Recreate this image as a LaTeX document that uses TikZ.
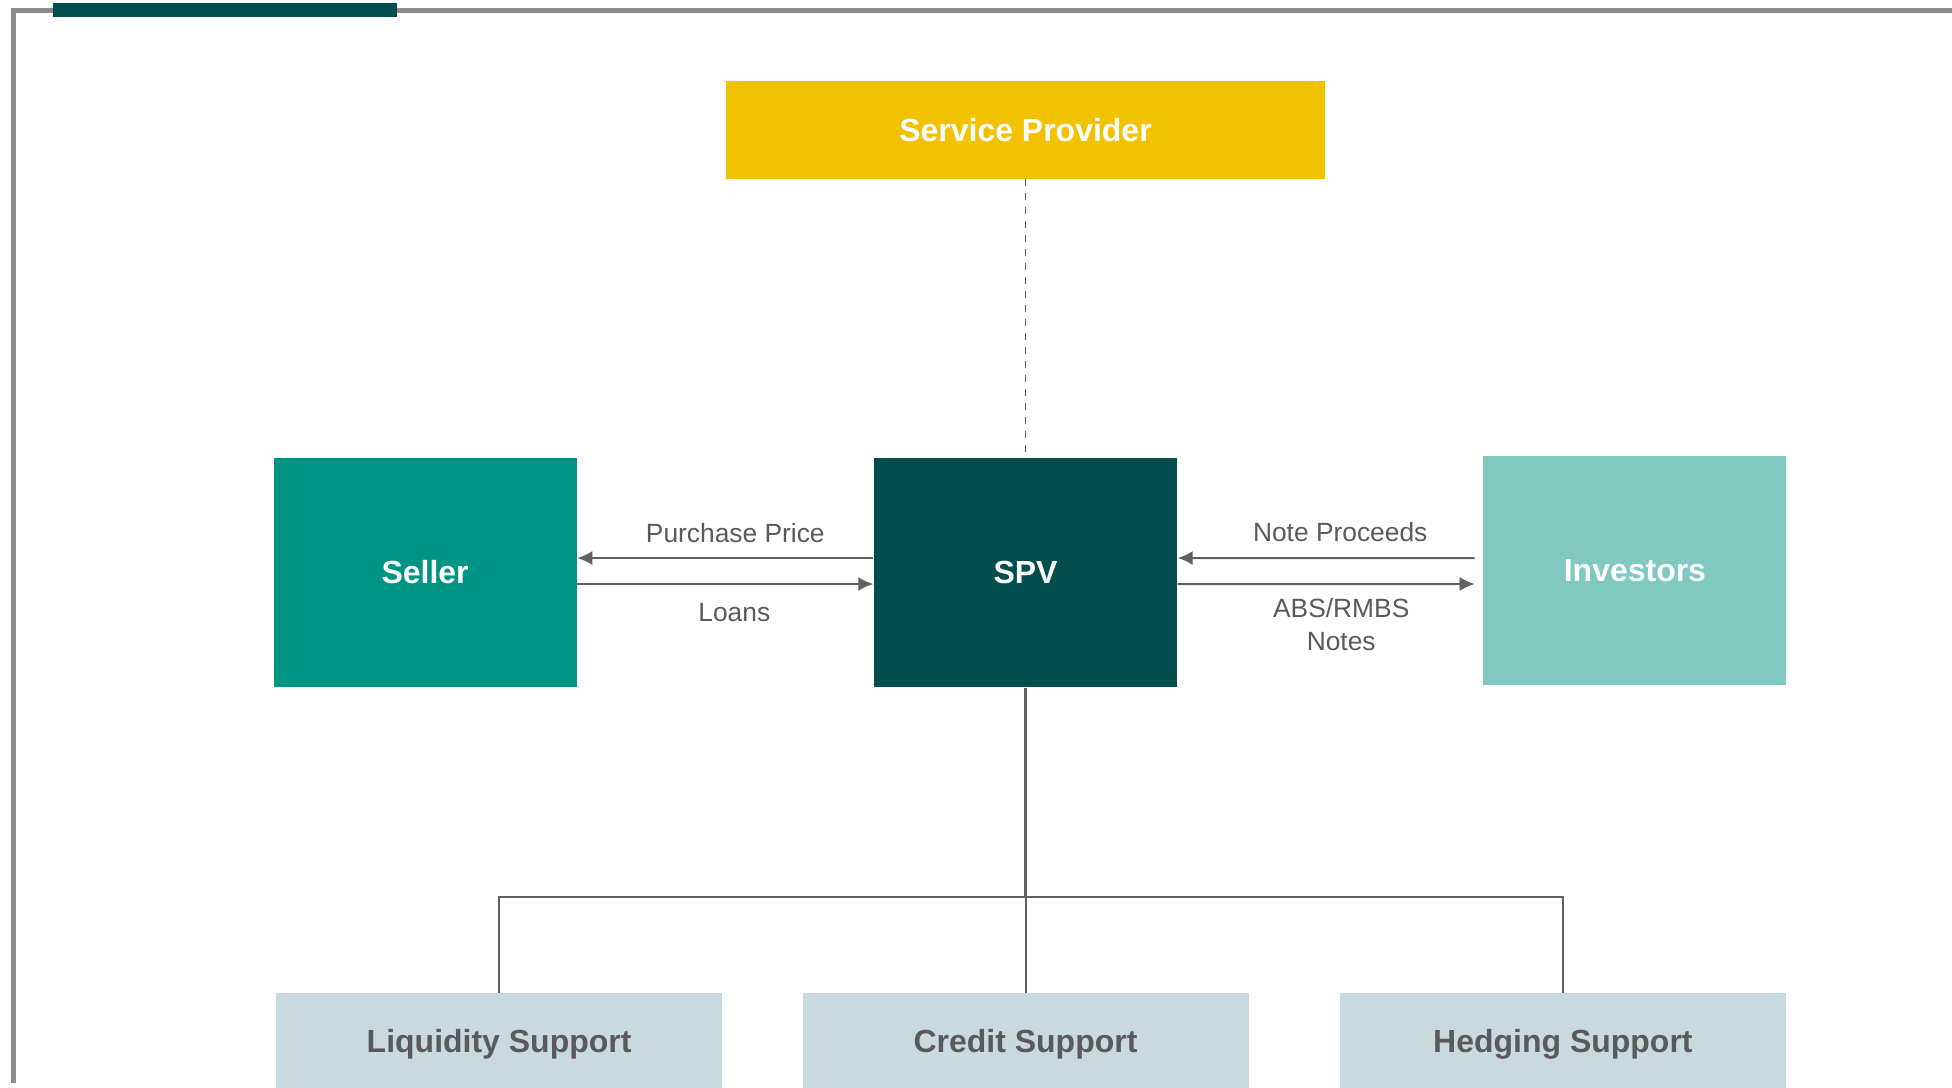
\documentclass[tikz,border=0pt]{standalone}
\usepackage{xcolor}
\usepackage{fontspec}
\setmainfont{Liberation Sans}
\usepackage{tikz}
\usetikzlibrary{arrows.meta, positioning, calc}

\definecolor{spyellow}{HTML}{F2C200}
\definecolor{sellerteal}{HTML}{009485}
\definecolor{spvteal}{HTML}{024D4E}
\definecolor{invteal}{HTML}{80C8C0}
\definecolor{supblue}{HTML}{C8D9E0}
\definecolor{textgray}{HTML}{5A5A5A}
\definecolor{framegray}{HTML}{8C8C8C}
\definecolor{linegray}{HTML}{606060}

\begin{document}
\begin{tikzpicture}[
    keybox/.style={minimum width=3.03cm, minimum height=2.29cm, inner sep=0pt,
        text=white, font=\fontsize{9.1}{11}\selectfont\bfseries},
    topbox/.style={keybox, minimum width=5.99cm, minimum height=0.98cm, fill=spyellow},
    supbox/.style={minimum width=4.46cm, minimum height=1.02cm, inner sep=0pt, fill=supblue,
        text=textgray, font=\fontsize{9.1}{11}\selectfont\bfseries},
    flow/.style={draw=linegray, line width=0.02cm, -{Latex[length=0.15cm, width=0.14cm]}},
    link/.style={draw=linegray, line width=0.02cm},
    flowlabel/.style={inner sep=0pt, text=textgray, font=\fontsize{7.5}{8.6}\selectfont, align=center},
    ]
\clip (0,0) rectangle (19.52,-10.87);
\fill[white] (0,0) rectangle (19.52,-10.87);

\draw[framegray, line width=0.05cm] (0.13,-10.83) -- (0.13,-0.10) -- (19.60,-0.10);
\fill[spvteal] (0.53,-0.03) rectangle (3.97,-0.17);

\node[keybox, fill=spvteal] (spv) at (10.255,-5.725) {SPV};
\node[keybox, fill=sellerteal, left=2.96cm of spv] (seller) {Seller};
\node[keybox, fill=invteal, right=3.05cm of spv, yshift=0.02cm] (inv) {Investors};
\node[topbox, above=2.78cm of spv] (sp) {Service Provider};
\node[supbox, below=3.05cm of spv] (cred) {Credit Support};
\node[supbox, left=0.79cm of cred] (liq) {Liquidity Support};
\node[supbox, right=0.90cm of cred] (hedge) {Hedging Support};

\draw[link, dash pattern=on 0.07cm off 0.07cm, line width=0.015cm] (sp.south) -- (spv.north);

\draw[flow] ([yshift=0.145cm]spv.west) -- ([yshift=0.145cm]seller.east)
    node[flowlabel, midway, above=0.14cm, xshift=0.1cm] {Purchase Price};
\draw[flow] ([yshift=-0.115cm]seller.east) -- ([yshift=-0.115cm]spv.west)
    node[flowlabel, midway, below=0.18cm, xshift=0.09cm] {Loans};
\draw[flow] ([xshift=-0.08cm, yshift=0.125cm]inv.west) -- ([yshift=0.145cm]spv.east)
    node[flowlabel, midway, above=0.15cm, xshift=0.14cm] {Note Proceeds};
\draw[flow] ([yshift=-0.115cm]spv.east) -- ([xshift=-0.08cm, yshift=-0.135cm]inv.west)
    node[flowlabel, midway, below=0.13cm, xshift=0.15cm] {ABS/RMBS\\[0.03cm]Notes};

\coordinate[below=2.09cm of spv.south] (bus);
\draw[link, line width=0.03cm] (spv.south) -- (bus);
\draw[link] (bus) -- (cred.north);
\draw[link] (liq.north) |- (bus) -| (hedge.north);
\end{tikzpicture}
\end{document}
